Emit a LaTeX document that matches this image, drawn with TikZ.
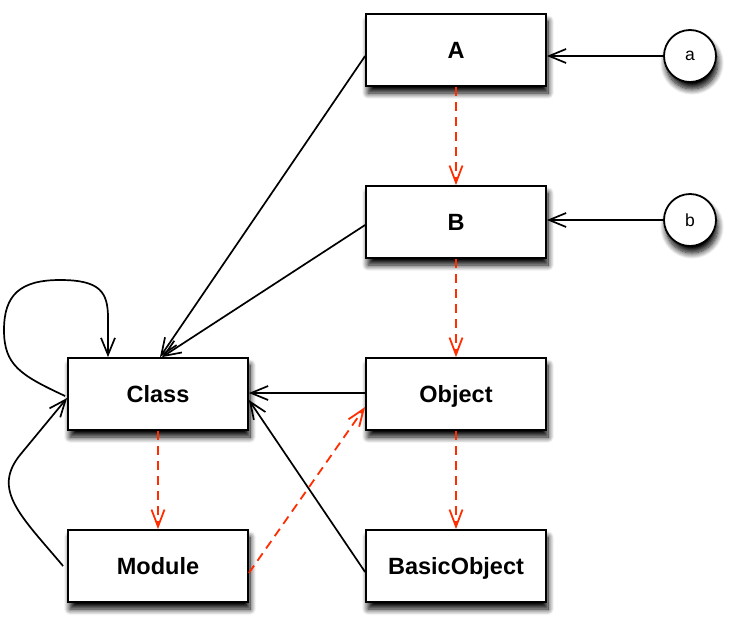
\documentclass[tikz,border=0pt]{standalone}
\usepackage{fontspec}
\setmainfont{Liberation Sans}
\usetikzlibrary{arrows.meta,shadows.blur}
\definecolor{dep}{RGB}{255,45,0}
\begin{document}
\begin{tikzpicture}[x=1pt,y=-1pt,
  shade/.style={blur shadow={shadow xshift=2pt, shadow yshift=-7pt, shadow blur radius=6pt,
    shadow blur steps=10, shadow opacity=100}},
  box/.style={draw, line width=1.8pt, fill=white, minimum width=180pt, minimum height=72pt,
    inner sep=0pt, text height=17pt, text depth=0pt, font=\fontsize{23.5}{28}\selectfont\bfseries, shade},
  obj/.style={draw, circle, line width=1.8pt, fill=white, minimum size=52pt, inner sep=0pt,
    font=\fontsize{17.5}{21}\selectfont, shade},
  link/.style={line width=1.7pt, -{Straight Barb[length=17pt,width=14pt,line width=1.7pt]}},
  deplink/.style={dep, line width=1.8pt, dash pattern=on 9pt off 6pt,
    -{Straight Barb[length=17pt,width=13pt,line width=1.8pt]}}
]
\useasboundingbox (0,0) rectangle (738,632);

\node[box] (A) at (456,50) {A};
\node[box] (B) at (456,222) {B};
\node[box] (Object) at (456,394) {Object};
\node[box] (BasicObject) at (456,566) {BasicObject};
\node[box] (Class) at (158,394) {Class};
\node[box] (Module) at (158,566) {Module};
\node[obj] (a) at (690,56) {a};
\node[obj] (b) at (690,220) {b};

% instance-of links
\draw[link] (a.west) -- (A.east |- a.west);
\draw[link] (b.west) -- (B.east |- b.west);
\draw[link] ([yshift=-6pt]A.west) -- ([xshift=2pt]Class.north);
\draw[link] ([yshift=-3pt]B.west) -- ([xshift=4pt]Class.north);
\draw[link] ([yshift=1pt]Object.west) -- ([yshift=1pt]Class.east);
\draw[link] ([yshift=-6pt]BasicObject.west) -- ([yshift=-6pt]Class.east);
\draw[link] ([xshift=-2pt,yshift=-2pt]Class.west) .. controls (20,375) and (4,365) .. (4,330)
  .. controls (4,295) and (20,280) .. (60,280)
  .. controls (100,280) and (108,292) .. (108,318) -- ([xshift=-50pt]Class.north);
\draw[link] ([xshift=-4pt]Module.west) .. controls (20,515) and (-8,490) .. (20,455)
  -- ([yshift=-4pt]Class.west);

% superclass links
\draw[deplink] (A.south) -- (B.north);
\draw[deplink] (B.south) -- (Object.north);
\draw[deplink] (Object.south) -- (BasicObject.north);
\draw[deplink] (Class.south) -- (Module.north);
\draw[deplink] ([yshift=-7pt]Module.east) -- ([yshift=-13pt]Object.west);
\end{tikzpicture}
\end{document}
